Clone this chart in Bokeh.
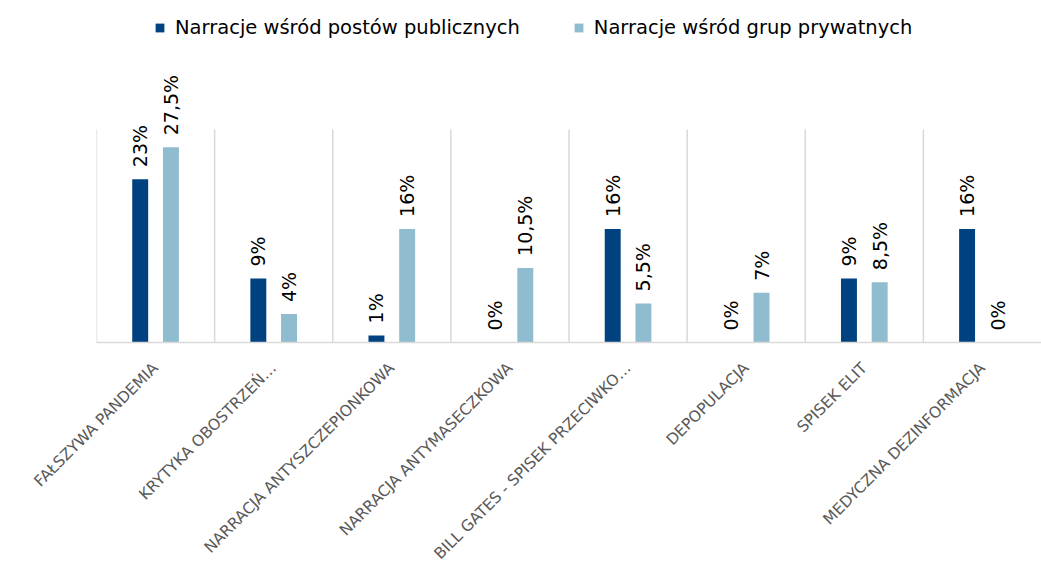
import math
from bokeh.plotting import figure
from bokeh.models import ColumnDataSource, Range1d, FactorRange, Legend, LegendItem
from bokeh.transform import dodge
from bokeh.core.properties import value
from bokeh.embed import file_html
from bokeh.resources import INLINE

categories = [
    "FAŁSZYWA PANDEMIA",
    "KRYTYKA OBOSTRZEŃ…",
    "NARRACJA ANTYSZCZEPIONKOWA",
    "NARRACJA ANTYMASECZKOWA",
    "BILL GATES - SPISEK PRZECIWKO…",
    "DEPOPULACJA",
    "SPISEK ELIT",
    "MEDYCZNA DEZINFORMACJA",
]
public_values = [23, 9, 1, 0, 16, 0, 9, 16]
private_values = [27.5, 4, 16, 10.5, 5.5, 7, 8.5, 0]
series_names = ["Narracje wśród postów publicznych", "Narracje wśród grup prywatnych"]

DARK = "#00427F"
LIGHT = "#8FBCCF"
GRID = "#D9D9D9"

Y_TOP = 30          # top of the value axis (grid lines end here)
Y_END = 48.17       # extra room above for legend and labels


def fmt(v):
    s = ("%g" % v).replace(".", ",")
    return s + "%"


src = ColumnDataSource(dict(
    cat=categories,
    pub=public_values,
    priv=private_values,
    pub_lbl=[fmt(v) for v in public_values],
    priv_lbl=[fmt(v) for v in private_values],
))

p = figure(
    x_range=FactorRange(factors=categories),
    y_range=Range1d(0, Y_END),
    width=1041, height=576,
    min_border_left=96, min_border_right=0,
    min_border_top=0, min_border_bottom=234,
    output_backend="svg", toolbar_location=None,
    background_fill_color="white", border_fill_color="white",
)
p.outline_line_color = None
p.xgrid.visible = False
p.ygrid.visible = False
p.yaxis.visible = False

# category separators
bounds = list(range(len(categories)))
p.segment(x0=bounds, x1=bounds, y0=[0] * len(bounds), y1=[Y_TOP] * len(bounds),
          line_color=GRID, line_width=1.5)

off = 0.13
bw = 0.135
r1 = p.vbar(x=dodge("cat", -off, range=p.x_range), top="pub", width=bw,
            source=src, color=DARK, line_color=None)
r2 = p.vbar(x=dodge("cat", off, range=p.x_range), top="priv", width=bw,
            source=src, color=LIGHT, line_color=None)

for col, lbl, d in (("pub", "pub_lbl", -off), ("priv", "priv_lbl", off)):
    p.text(x=dodge("cat", d, range=p.x_range), y=col, text=lbl, source=src,
           angle=math.pi / 2, text_align="left", text_baseline="middle",
           y_offset=-12, text_font=value("DejaVu Sans"), text_font_size="19px",
           text_color="#000000")

ax = p.xaxis[0]
ax.axis_line_color = GRID
ax.axis_line_width = 1.5
ax.major_tick_line_color = None
ax.minor_tick_line_color = None
ax.major_label_orientation = math.pi / 4
ax.major_label_text_font = "DejaVu Sans"
ax.major_label_text_font_size = "15.5px"
ax.major_label_text_color = "#595959"
ax.major_label_standoff = 17

legend = Legend(
    items=[LegendItem(label=series_names[0], renderers=[r1]),
           LegendItem(label=series_names[1], renderers=[r2])],
    orientation="horizontal", location=(58, 303),
    glyph_width=11, glyph_height=11, label_standoff=10, spacing=53,
    padding=0, margin=0, border_line_color=None, background_fill_alpha=0,
    label_text_font="DejaVu Sans", label_text_font_size="19.5px", label_text_color="#000000",
)
p.add_layout(legend)

open("out.html", "w").write(file_html(p, INLINE))
